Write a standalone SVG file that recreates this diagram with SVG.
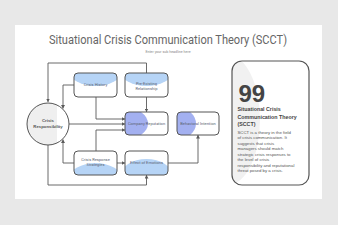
<svg xmlns="http://www.w3.org/2000/svg" width="338" height="225" viewBox="0 0 338 225">
<style>
.box{fill:none;stroke:#555;stroke-width:1}
.bl{fill:#b6d4f6}
.pu{fill:#a3b0f0}
.bt{font-family:Roboto,"Liberation Sans",sans-serif;font-size:4px;fill:#5a6270;text-anchor:middle}
.con{fill:none;stroke:#5a5a5a;stroke-width:0.9}
.ct{font-family:"Liberation Sans",Arial,sans-serif;font-size:4.3px;fill:#555}
</style>
<defs>
<marker id="ar" markerUnits="userSpaceOnUse" markerWidth="4" markerHeight="4" refX="3.5" refY="2" orient="auto">
<path d="M0,0 L3.5,2 L0,4 z" fill="#5a5a5a"/>
</marker>
<clipPath id="c1"><rect x="74" y="73" width="43" height="24" rx="4"/></clipPath>
<clipPath id="c2"><rect x="125" y="73" width="43" height="24" rx="4"/></clipPath>
<clipPath id="c3"><rect x="125" y="112" width="43" height="23" rx="4"/></clipPath>
<clipPath id="c4"><rect x="177" y="112" width="42" height="23" rx="4"/></clipPath>
<clipPath id="c5"><rect x="74" y="151" width="43" height="24" rx="4"/></clipPath>
<clipPath id="c6"><rect x="125" y="151" width="43" height="24" rx="4"/></clipPath>
<clipPath id="cc"><circle cx="48" cy="124" r="21"/></clipPath>
<clipPath id="ck"><rect x="232" y="61" width="77" height="124" rx="10"/></clipPath>
</defs>
<rect width="338" height="225" fill="#e8e8e8"/>
<rect x="15" y="25" width="307" height="174" fill="#ffffff"/>
<text x="168" y="43.5" text-anchor="middle" font-family="Roboto,'Liberation Sans',sans-serif" font-size="12" fill="#666" textLength="238" lengthAdjust="spacingAndGlyphs">Situational Crisis Communication Theory (SCCT)</text>
<text x="168" y="53" text-anchor="middle" font-family="Roboto,'Liberation Sans',sans-serif" font-size="3.6" fill="#888">Enter your sub headline here</text>

<g id="connectors">
<path class="con" d="M146.5,73 V63 H48 V102" marker-end="url(#ar)"/>
<path class="con" d="M74,85 H63 V108.5" marker-end="url(#ar)"/>
<path class="con" d="M96,97 V119 H125" marker-end="url(#ar)"/>
<path class="con" d="M69,124 H125" marker-end="url(#ar)"/>
<path class="con" d="M96,151 V130 H125" marker-end="url(#ar)"/>
<path class="con" d="M146.5,97 V112" marker-end="url(#ar)"/>
<path class="con" d="M74,163 H63 V139.5" marker-end="url(#ar)"/>
<path class="con" d="M117,163 H125" marker-end="url(#ar)"/>
<path class="con" d="M168,163 H198 V135" marker-end="url(#ar)"/>
<path class="con" d="M48,145 V185 H146.5 V175" marker-end="url(#ar)"/>
</g>

<g id="crisis-responsibility">
<circle cx="48" cy="124" r="21" fill="#fff"/>
<rect x="27" y="103" width="30" height="42" fill="#efefef" clip-path="url(#cc)"/>
<circle cx="48" cy="124" r="21" fill="none" stroke="#555" stroke-width="1"/>
<text x="48" y="122" text-anchor="middle" font-family="'Liberation Sans',Arial,sans-serif" font-size="4.3" font-weight="bold" fill="#555">Crisis</text>
<text x="48" y="128" text-anchor="middle" font-family="'Liberation Sans',Arial,sans-serif" font-size="4.3" font-weight="bold" fill="#555">Responsibility</text>
</g>

<g id="crisis-history">
<rect x="74" y="73" width="43" height="24" rx="4" fill="#fff"/>
<ellipse class="bl" cx="95.5" cy="70" rx="27" ry="16" clip-path="url(#c1)"/>
<rect class="box" x="74" y="73" width="43" height="24" rx="4"/>
<text class="bt" x="95.5" y="86.4">Crisis History</text>
</g>

<g id="pre-existing-relationship">
<rect x="125" y="73" width="43" height="24" rx="4" fill="#fff"/>
<ellipse class="bl" cx="146.5" cy="70" rx="27" ry="16" clip-path="url(#c2)"/>
<rect class="box" x="125" y="73" width="43" height="24" rx="4"/>
<text class="bt" x="146.5" y="84.7">Pre-Existing</text>
<text class="bt" x="146.5" y="89.7">Relationship</text>
</g>

<g id="company-reputation">
<rect x="125" y="112" width="43" height="23" rx="4" fill="#fff"/>
<ellipse class="pu" cx="125" cy="123.5" rx="23" ry="16" clip-path="url(#c3)"/>
<rect class="box" x="125" y="112" width="43" height="23" rx="4"/>
<text class="bt" x="146.5" y="125">Company Reputation</text>
</g>

<g id="behavioral-intention">
<rect x="177" y="112" width="42" height="23" rx="4" fill="#fff"/>
<ellipse class="pu" cx="177" cy="123.5" rx="19" ry="16" clip-path="url(#c4)"/>
<rect class="box" x="177" y="112" width="42" height="23" rx="4"/>
<text class="bt" x="198" y="125">Behavioral Intention</text>
</g>

<g id="crisis-response-strategies">
<rect x="74" y="151" width="43" height="24" rx="4" fill="#fff"/>
<ellipse class="bl" cx="95.5" cy="178" rx="26" ry="15" clip-path="url(#c5)"/>
<rect class="box" x="74" y="151" width="43" height="24" rx="4"/>
<text class="bt" x="95.5" y="161.4">Crisis Response</text>
<text class="bt" x="95.5" y="166.4">Strategies</text>
</g>

<g id="effect-of-emotions">
<rect x="125" y="151" width="43" height="24" rx="4" fill="#fff"/>
<ellipse class="bl" cx="146.5" cy="176" rx="26" ry="17" clip-path="url(#c6)"/>
<rect class="box" x="125" y="151" width="43" height="24" rx="4"/>
<text class="bt" x="146.5" y="164">Effect of Emotions</text>
</g>

<g id="scct-card">
<rect x="232" y="61" width="77" height="124" rx="10" fill="#fff"/>
<ellipse cx="228" cy="120" rx="32" ry="65" fill="#f1f1f1" clip-path="url(#ck)"/>
<rect x="232" y="61" width="77" height="124" rx="10" fill="none" stroke="#555" stroke-width="1.2"/>
<text x="238.5" y="101.5" font-family="'Liberation Sans',Arial,sans-serif" font-size="24" font-weight="bold" fill="#444">99</text>
<text font-family="'Liberation Sans',Arial,sans-serif" font-size="5.3" font-weight="bold" fill="#444">
<tspan x="237.5" y="111.2">Situational Crisis</tspan>
<tspan x="237.5" y="118.6">Communication Theory</tspan>
<tspan x="237.5" y="126">(SCCT)</tspan>
</text>
<text class="ct">
<tspan x="237.5" y="133.5">SCCT is a theory in the field</tspan>
<tspan x="237.5" y="139">of crisis communication. It</tspan>
<tspan x="237.5" y="144.5">suggests that crisis</tspan>
<tspan x="237.5" y="150">managers should match</tspan>
<tspan x="237.5" y="155.5">strategic crisis responses to</tspan>
<tspan x="237.5" y="161">the level of crisis</tspan>
<tspan x="237.5" y="166.5">responsibility and reputational</tspan>
<tspan x="237.5" y="172">threat posed by a crisis.</tspan>
</text>
</g>
</svg>
